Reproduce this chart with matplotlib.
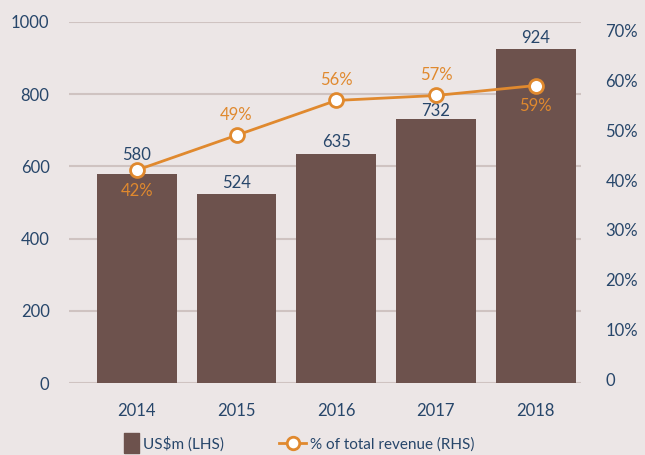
import matplotlib.pyplot as plt
from matplotlib.lines import Line2D

plt.rcParams['font.family'] = ['Lato', 'DejaVu Sans']

years = ['2014', '2015', '2016', '2017', '2018']
usd_m = [580, 524, 635, 732, 924]
pct_rev = [42, 49, 56, 57, 59]
right_ticks = [0, 10, 20, 30, 40, 50, 60, 70]
right_labels = ['0', '10%', '20%', '30%', '40%', '50%', '60%', '70%']

bg = '#ece6e6'
bar_col = '#6d524d'
orange = '#e0892e'
navy = '#27466a'
grid_col = '#cfc3c1'

fig = plt.figure(figsize=(6.45, 4.55), dpi=100, facecolor=bg)
ax = fig.add_axes([0.107, 0.158, 0.793, 0.794])
ax.set_facecolor(bg)
x = list(range(len(years)))

ax.bar(x, usd_m, width=0.8, color=bar_col, zorder=2)
ax.set_ylim(0, 1000)
ax.set_xlim(-0.68, 4.45)
ax.set_yticks([0, 200, 400, 600, 800, 1000])
ax.grid(axis='y', color=grid_col, linewidth=1.5, zorder=0)
ax.set_xticks(x)
ax.set_xticklabels(years)
ax.tick_params(length=0, labelsize=12, labelcolor=navy, pad=14)
ax.tick_params(axis='y', pad=14)
for s in ax.spines.values():
    s.set_visible(False)

# value labels: nudged so they clear the line markers
bar_lbl_off = [10, 4.5, 4.5, 2, 4.5]
for xi, v, o in zip(x, usd_m, bar_lbl_off):
    ax.annotate(str(v), (xi, v), xytext=(0, o), textcoords='offset points',
                ha='center', va='baseline', fontsize=12, color=navy, zorder=4)

ax2 = ax.twinx()
ax2.plot(x, pct_rev, color=orange, linewidth=2, marker='o', markersize=10,
         markerfacecolor='white', markeredgecolor=orange, markeredgewidth=2, zorder=3)
ax2.set_ylim(-0.8, 71.8)
ax2.set_yticks(right_ticks)
ax2.set_yticklabels(right_labels)
ax2.tick_params(length=0, labelsize=12, labelcolor=navy, pad=18)
for s in ax2.spines.values():
    s.set_visible(False)

offsets = [-1, 1, 1, 1, -1]
for xi, v, o in zip(x, pct_rev, offsets):
    ax2.annotate(f'{v}%', (xi, v), xytext=(0, 9 * o), textcoords='offset points',
                 ha='center', va='bottom' if o > 0 else 'top', fontsize=12, color=orange)

# tall rectangle pushed to the right end of the handle box
rect = [(-1.1, -7.2), (9.7, -7.2), (9.7, 7.2), (-1.1, 7.2), (-1.1, -7.2)]
handles = [Line2D([0], [0], linestyle='none', marker=rect, markersize=19.4,
                  markerfacecolor=bar_col, markeredgecolor=bar_col),
           Line2D([0], [0], color=orange, linewidth=2, marker='o', markersize=9,
                  markerfacecolor='white', markeredgecolor=orange, markeredgewidth=2)]
fig.legend(handles, ['US$m (LHS)', '% of total revenue (RHS)'], loc='center',
           bbox_to_anchor=(0.455, 0.024), ncol=2, frameon=False, fontsize=11,
           labelcolor=navy, handlelength=1.75, handletextpad=0.25, columnspacing=3.6,
           borderpad=0)

fig.savefig('out.png', dpi=100, facecolor=bg)
